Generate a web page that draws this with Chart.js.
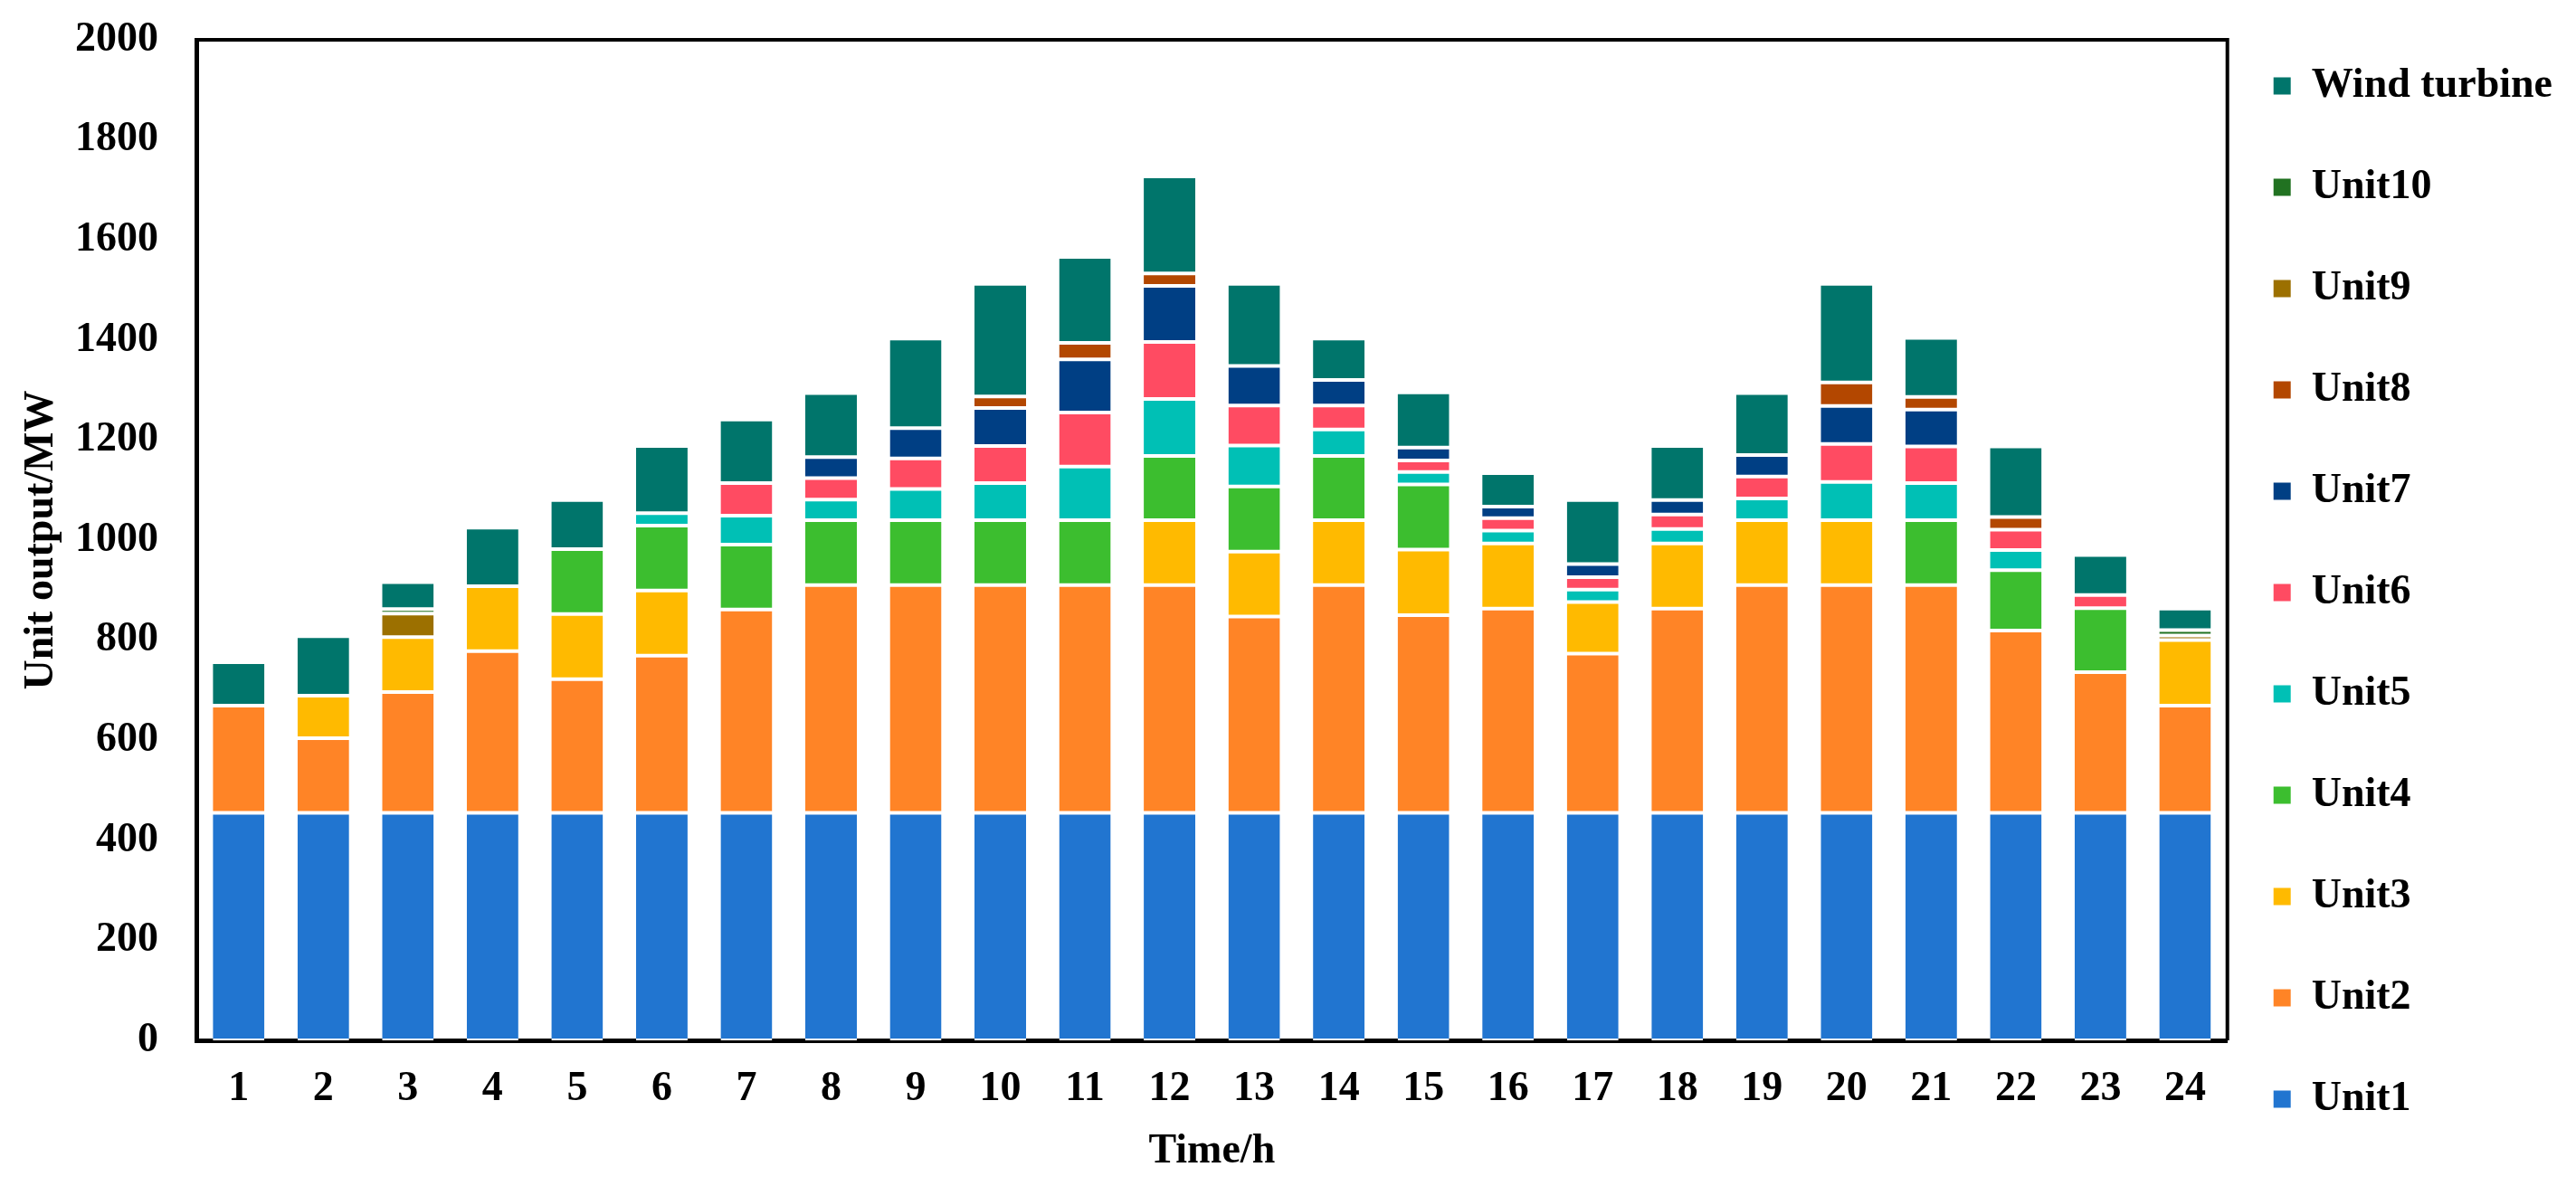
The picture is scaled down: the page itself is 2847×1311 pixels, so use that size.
<!DOCTYPE html>
<html><head><meta charset="utf-8">
<script src="https://cdn.jsdelivr.net/npm/chart.js@4.4.1/dist/chart.umd.min.js"></script>
<style>html,body{margin:0;padding:0;background:#fff;}#wrap{width:2847px;height:1311px;position:relative;}</style>
</head><body><div id="wrap"><canvas id="c"></canvas></div>
<script>
const hours = ['1','2','3','4','5','6','7','8','9','10','11','12','13','14','15','16','17','18','19','20','21','22','23','24'];
const unit1 = [455,455,455,455,455,455,455,455,455,455,455,455,455,455,455,455,455,455,455,455,455,455,455,455];
const unit2 = [214,149,241,323,267,314,406,455,455,455,455,455,392,455,395,408,318,408,455,455,455,364,281,214];
const unit3 = [null,85,110,130,130,130,null,null,null,null,null,130,130,130,131,130,103,130,130,130,null,null,null,131];
const unit4 = [null,null,null,null,130,130,130,130,130,130,130,128,130,128,130,null,null,null,null,null,130,121,128,null];
const unit5 = [null,null,null,null,null,25,58,41,62,74,107,114,82,53,25,26,25,29,43,76,74,40,null,null];
const unit6 = [null,null,null,null,null,null,65,43,61,74,108,114,80,48,23,25,25,29,44,76,73,41,26,null];
const unit7 = [null,null,null,null,null,null,null,42,61,76,106,112,79,51,26,23,26,29,43,76,74,null,null,null];
const unit8 = [null,null,null,null,null,null,null,null,null,23,33,25,null,null,null,null,null,null,null,47,25,25,null,null];
const unit9 = [null,null,47,null,null,null,null,null,null,null,null,null,null,null,null,null,null,null,null,null,null,null,null,9];
const unit10 = [null,null,9,null,null,null,null,null,null,null,null,null,null,null,null,null,null,null,null,null,null,null,null,11];
const wind = [87,119,54,117,98,134,127,128,179,225,172,194,164,83,110,67,128,108,124,197,118,141,80,43];
const yTicks = [0,200,400,600,800,1000,1200,1400,1600,1800,2000];

const seriesNames = ['Unit1','Unit2','Unit3','Unit4','Unit5','Unit6','Unit7','Unit8','Unit9','Unit10','Wind turbine'];
const seriesData = [unit1,unit2,unit3,unit4,unit5,unit6,unit7,unit8,unit9,unit10,wind];
const seriesColors = ['#2175D0','#FF8426','#FFBA00','#3CBE2F','#00C0B5','#FF4B62','#003F84','#B34700','#9C7000','#217221','#00756B'];

const FONT = 'Liberation Serif';
const frame = {
  id: 'frame',
  afterDraw(chart) {
    const {ctx, chartArea: a} = chart;
    ctx.save();
    ctx.strokeStyle = '#000';
    ctx.lineWidth = 4;
    ctx.beginPath();
    ctx.moveTo(a.left, a.top);
    ctx.lineTo(a.right, a.top);
    ctx.lineTo(a.right, a.bottom);
    ctx.stroke();
    ctx.restore();
  }
};

new Chart(document.getElementById('c'), {
  type: 'bar',
  data: {
    labels: hours,
    datasets: seriesNames.map((n, i) => ({
      label: n,
      data: seriesData[i],
      backgroundColor: seriesColors[i],
      borderColor: '#ffffff',
      borderWidth: {top: 2, bottom: 2, left: 0, right: 0},
      borderSkipped: false,
      barPercentage: 0.61,
      categoryPercentage: 1.0
    }))
  },
  options: {
    responsive: true,
    maintainAspectRatio: false,
    animation: false,
    devicePixelRatio: 1,
    layout: {padding: {top: 0, right: 16, bottom: 0, left: 0}},
    plugins: {
      tooltip: {enabled: false},
      legend: {
        position: 'right',
        align: 'center',
        reverse: true,
        title: {display: true, text: '', padding: 6, font: {size: 2, lineHeight: 1}},
        labels: {
          boxWidth: 19,
          boxHeight: 19,
          padding: 51,
          color: '#000',
          font: {family: FONT, size: 46, weight: 'bold', lineHeight: 61/46},
          generateLabels(chart) {
            const items = Chart.defaults.plugins.legend.labels.generateLabels(chart);
            items.forEach(it => { it.text = [it.text]; it.lineWidth = 0; });
            return items;
          }
        }
      }
    },
    scales: {
      x: {
        stacked: true,
        z: 1,
        grid: {display: false, drawTicks: false},
        border: {display: true, color: '#000', width: 5},
        ticks: {color: '#000', padding: 27, font: {family: FONT, size: 46, weight: 'bold'}},
        title: {display: true, text: 'Time/h', color: '#000', padding: {top: 0, bottom: 10}, font: {family: FONT, size: 46, weight: 'bold'}},
        afterFit(s) { s.height = 161; }
      },
      y: {
        stacked: true,
        z: 1,
        min: 0,
        max: 2000,
        grid: {display: false, drawTicks: false},
        border: {display: true, color: '#000', width: 5},
        afterBuildTicks(s) { s.ticks = yTicks.map(v => ({value: v})); },
        ticks: {color: '#000', padding: 42, font: {family: FONT, size: 46, weight: 'bold'}, callback: v => String(v)},
        title: {display: true, text: 'Unit output/MW', color: '#000', padding: {top: 19, bottom: 0}, font: {family: FONT, size: 46, weight: 'bold'}},
        afterFit(s) { s.width = 217; s.paddingTop = 44; }
      }
    }
  },
  plugins: [frame]
});
</script></body></html>
